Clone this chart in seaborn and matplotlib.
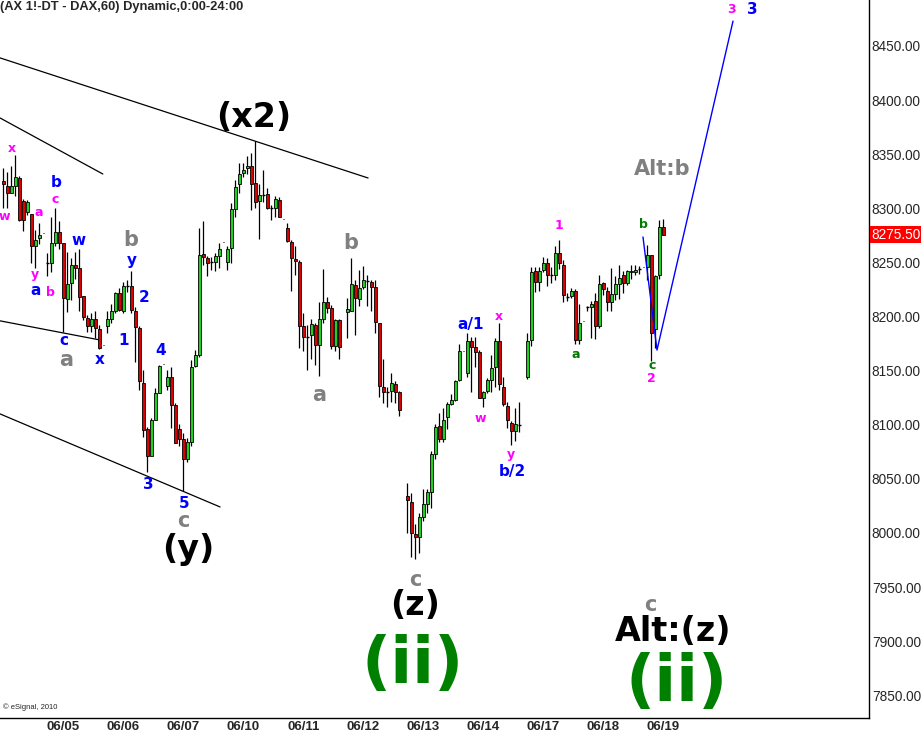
import numpy as np
import pandas as pd
import matplotlib
matplotlib.use("Agg")
import matplotlib.pyplot as plt
import matplotlib.transforms as mtransforms
import seaborn as sns

# -----------------------------
# DATA (hourly DAX candles)
# -----------------------------

opens = [8325, 8321, 8314, 8321, 8328, 8307, 8297, 8295, 8265, 8273, 8277,
         # 06/05
         8249, 8249, 8268, 8278, 8268, 8216, 8231, 8248, 8245, 8219, 8199, 8191, 8198, 8188, 8174,
         # 06/06
         8191, 8198, 8205, 8222, 8205, 8228, 8228, 8205, 8189, 8139, 8096, 8071, 8104, 8129, 8156,
         # 06/07
         8136, 8144, 8118, 8096, 8087, 8068, 8084, 8154, 8164, 8258, 8254, 8250, 8250, 8256, 8269,
         # 06/10
         8250, 8263, 8299, 8322, 8333, 8337, 8339, 8323, 8307, 8312, 8313, 8300, 8300, 8308, 8290,
         # 06/11
         8282, 8269, 8253, 8250, 8191, 8181, 8183, 8192, 8174, 8198, 8213, 8208, 8173, 8197, 8175,
         # 06/12
         8204, 8205, 8229, 8216, 8227, 8233, 8232, 8227, 8194, 8135, 8130, 8131, 8138, 8130, 8104,
         # 06/13
         8034, 8029, 7999, 7996, 8015, 8027, 8038, 8073, 8099, 8087, 8107, 8119, 8123, 8141, 8168,
         # 06/14
         8148, 8177, 8172, 8167, 8125, 8131, 8141, 8153, 8177, 8135, 8117, 8102, 8094, 8100, 8090,
         # 06/17
         8144, 8178, 8242, 8232, 8243, 8249, 8238, 8238, 8259, 8248, 8218, 8219, 8224, 8178, 8196,
         # 06/18
         8209, 8209, 8214, 8191, 8231, 8224, 8213, 8221, 8230, 8238, 8231, 8241, 8241, 8244, 8246,
         # 06/19
         8246, 8257, 8188, 8238, 8283]

highs = [8337, 8334, 8339, 8349, 8330, 8309, 8308, 8295, 8280, 8286, 8277,
         8259, 8292, 8300, 8288, 8268, 8260, 8254, 8260, 8262, 8219, 8201, 8203, 8205, 8192, 8174,
         8205, 8212, 8223, 8226, 8232, 8234, 8242, 8209, 8191, 8151, 8098, 8106, 8134, 8155, 8156,
         8151, 8153, 8120, 8101, 8092, 8088, 8160, 8169, 8282, 8288, 8256, 8255, 8259, 8268, 8269,
         8265, 8305, 8326, 8342, 8342, 8348, 8351, 8362, 8322, 8335, 8319, 8303, 8311, 8310, 8290,
         8286, 8271, 8265, 8252, 8203, 8192, 8198, 8194, 8213, 8244, 8218, 8211, 8198, 8198, 8175,
         8217, 8254, 8234, 8243, 8247, 8238, 8234, 8234, 8194, 8161, 8135, 8148, 8140, 8131, 8104,
         8046, 8037, 8008, 8018, 8041, 8041, 8076, 8101, 8111, 8115, 8121, 8128, 8141, 8175, 8168,
         8185, 8181, 8181, 8169, 8131, 8143, 8164, 8180, 8194, 8144, 8121, 8103, 8115, 8121, 8090,
         8185, 8246, 8246, 8246, 8255, 8254, 8246, 8265, 8271, 8252, 8222, 8226, 8225, 8212, 8196,
         8210, 8214, 8222, 8238, 8232, 8227, 8245, 8237, 8248, 8242, 8243, 8248, 8248, 8247, 8246,
         8266, 8257, 8238, 8289, 8290]

lows = [8300, 8300, 8314, 8311, 8288, 8279, 8294, 8249, 8245, 8267, 8277,
        8237, 8241, 8265, 8262, 8186, 8204, 8215, 8235, 8205, 8197, 8186, 8186, 8180, 8170, 8174,
        8185, 8194, 8203, 8205, 8203, 8223, 8203, 8158, 8132, 8089, 8056, 8071, 8104, 8129, 8156,
        8132, 8097, 8083, 8080, 8039, 8066, 8080, 8153, 8163, 8248, 8237, 8243, 8242, 8245, 8269,
        8243, 8249, 8292, 8314, 8329, 8332, 8298, 8300, 8272, 8306, 8299, 8289, 8292, 8292, 8290,
        8269, 8224, 8238, 8171, 8168, 8151, 8161, 8155, 8145, 8194, 8203, 8170, 8168, 8161, 8175,
        8180, 8205, 8183, 8210, 8225, 8210, 8205, 8185, 8126, 8120, 8116, 8121, 8120, 8108, 8104,
        8000, 7978, 7976, 7981, 8011, 8018, 8023, 8068, 8084, 8084, 8096, 8118, 8122, 8140, 8168,
        8144, 8130, 8153, 8125, 8116, 8129, 8130, 8135, 8132, 8117, 8097, 8081, 8085, 8093, 8090,
        8142, 8173, 8223, 8224, 8241, 8228, 8231, 8234, 8244, 8213, 8214, 8217, 8175, 8175, 8196,
        8205, 8180, 8179, 8189, 8220, 8205, 8205, 8215, 8216, 8222, 8229, 8235, 8238, 8239, 8246,
        8234, 8159, 8171, 8235, 8275.5]

closes = [8322, 8314, 8321, 8329, 8289, 8289, 8306, 8265, 8271, 8275, 8277,
          8249, 8268, 8278, 8268, 8217, 8230, 8248, 8245, 8218, 8200, 8191, 8198, 8189, 8171, 8174,
          8198, 8205, 8222, 8206, 8228, 8228, 8206, 8190, 8140, 8095, 8071, 8104, 8129, 8154, 8156,
          8144, 8118, 8083, 8087, 8068, 8084, 8153, 8164, 8257, 8255, 8249, 8250, 8256, 8262, 8269,
          8262, 8299, 8320, 8332, 8335, 8339, 8322, 8306, 8312, 8312, 8300, 8300, 8309, 8292, 8290,
          8270, 8254, 8251, 8191, 8181, 8181, 8193, 8174, 8198, 8213, 8208, 8173, 8197, 8172, 8175,
          8207, 8230, 8217, 8226, 8234, 8233, 8227, 8195, 8136, 8130, 8130, 8139, 8130, 8114, 8104,
          8030, 8000, 7996, 8015, 8027, 8038, 8073, 8098, 8087, 8104, 8119, 8123, 8140, 8168, 8168,
          8177, 8172, 8167, 8125, 8130, 8141, 8152, 8177, 8138, 8119, 8104, 8094, 8101, 8100, 8090,
          8177, 8241, 8232, 8242, 8249, 8238, 8238, 8259, 8249, 8220, 8218, 8224, 8178, 8194, 8196,
          8209, 8212, 8191, 8230, 8225, 8213, 8221, 8230, 8236, 8231, 8242, 8242, 8243, 8244, 8246,
          8257, 8185, 8237, 8283, 8275.5]

last_price = 8275.50

day_labels = ['06/05', '06/06', '06/07', '06/10', '06/11', '06/12',
              '06/13', '06/14', '06/17', '06/18', '06/19']

price_ticks = [7850, 7900, 7950, 8000, 8050, 8100, 8150, 8200, 8250, 8300, 8350, 8400, 8450]

# trendlines (bar index, price)
trend_x = [[-11.8, 80.2], [-11.8, 13.9], [-11.8, 13.2], [-11.8, 43.2]]
trend_y = [[8439, 8328], [8383.5, 8331.7], [8196, 8178.3], [8110, 8024]]

# projected path
proj_x = [148.9, 152.4, 171.4]
proj_y = [8273.5, 8169, 8473]

# wave labels: text, bar index, price, style
wave_text = ['x', 'w', 'b', 'c', 'a', 'w', 'b', 'y', 'y', 'a', 'b', '2', 'c', '1',
             'a', 'x', '4', '3', '5', 'c', '(y)', '(x2)', 'b', 'a', 'c', '(z)', '(ii)',
             'a/1', 'x', 'w', 'y', 'b/2', '1', 'a', 'b', 'c', '2', 'Alt:b', '3', '3',
             'c', 'Alt:(z)', '(ii)']
wave_x = [-8.9, -10.6, 2.2, 1.9, -2.0, 7.75, 20.9, 21.25, -3.1, -2.8, 0.9, 24.25, 4.25, 19.2,
          4.85, 13.2, 28.35, 25.25, 34.25, 33.9, 35.2, 51.7, 75.85, 67.9, 91.9, 91.9, 91.4,
          105.85, 112.9, 108.35, 115.85, 116.25, 127.9, 132.1, 149.0, 151.1, 151.1, 153.7, 171.1, 176.25,
          150.7, 156.4, 157.4]
wave_y = [8355.5, 8292, 8323.7, 8308.3, 8296, 8270.7, 8270.7, 8251.6, 8238.4, 8223.9, 8222, 8217.8, 8177.7, 8177.7,
          8159.9, 8159.9, 8168.2, 8044.4, 8027.4, 8011.1, 7984.3, 8383.5, 8268.2, 8127.5, 7956.6, 7932.6, 7878,
          8192.2, 8199.9, 8105.3, 8072.7, 8056.6, 8283.7, 8164.5, 8285.2, 8154.6, 8143, 8336.3, 8483.3, 8483.3,
          7933.5, 7908.5, 7861]
wave_style = ['mag', 'mag', 'blue', 'mag', 'mag', 'blue', 'gray', 'blue', 'mag', 'blue', 'mag', 'blue', 'blue', 'blue',
              'gray', 'blue', 'blue', 'blue', 'blue', 'gray', 'big', 'big', 'gray', 'gray', 'gray', 'big', 'ii',
              'blue', 'mag', 'mag', 'mag', 'blue', 'mag', 'grn', 'grn', 'grn', 'mag', 'gray', 'mag', 'blue',
              'gray', 'big', 'ii']

styles = {
    'big': dict(color='black', fontsize=24),
    'ii': dict(color='#008000', fontsize=46),
    'gray': dict(color='#808080', fontsize=15),
    'blue': dict(color='#0000ff', fontsize=11),
    'mag': dict(color='#ff00ff', fontsize=9),
    'grn': dict(color='#007a00', fontsize=9),
}

# -----------------------------
# BUILD TABLE
# -----------------------------

df = pd.DataFrame({'open': opens, 'high': highs, 'low': lows, 'close': closes})
df['bar'] = np.arange(len(df)) - 11

# -----------------------------
# PLOT
# -----------------------------

sns.set_style("white")
plt.rcParams['font.family'] = ['DejaVu Sans']

fig = plt.figure(figsize=(9.21, 7.36), dpi=100)
ax = fig.add_axes([0.0, 0.0245, 0.9436, 0.9755])

for _, r in df.iterrows():
    x = r['bar']
    if r['high'] == r['low']:
        # session-end marker
        ax.bar(x, 1.6, bottom=r['close'] - 0.8, width=0.75, color='black', zorder=3)
        continue
    ax.vlines(x, r['low'], r['high'], color='black', lw=0.9, zorder=2)
    if r['open'] == r['close']:
        ax.hlines(r['close'], x - 0.4, x + 0.4, color='black', lw=1.0, zorder=3)
    else:
        col = '#1fd11f' if r['close'] > r['open'] else '#dd0000'
        ax.bar(x, abs(r['close'] - r['open']), bottom=min(r['open'], r['close']),
               width=0.8, color=col, edgecolor='black', linewidth=0.6, zorder=3)

for tx, ty in zip(trend_x, trend_y):
    sns.lineplot(x=tx, y=ty, ax=ax, color='black', lw=0.9, sort=False, estimator=None, zorder=1)

sns.lineplot(x=proj_x, y=proj_y, ax=ax, color='#0000ff', lw=1.0, sort=False, estimator=None, zorder=4)

for t, x, y, s in zip(wave_text, wave_x, wave_y, wave_style):
    ax.text(x, y, t, ha='center', va='center', fontweight='bold', zorder=5, **styles[s])

# axes
axis_font = ['Liberation Sans', 'DejaVu Sans']
ax.set_xlim(-11.8, 205.4)
ax.set_ylim(7829, 8492.5)
ax.yaxis.tick_right()
ax.set_yticks(price_ticks)
ax.set_yticklabels(['%.2f' % p for p in price_ticks], family=axis_font, fontsize=9.8)
ax.set_xticks([15 * i + 4 for i in range(len(day_labels))])
ax.set_xticklabels(day_labels, family=axis_font, fontsize=9.5, fontweight='bold')
ax.tick_params(axis='y', length=0, pad=2)
ax.tick_params(axis='x', length=0, pad=2)
for side in ['left', 'top']:
    ax.spines[side].set_visible(False)
for side in ['right', 'bottom']:
    ax.spines[side].set_color('black')
    ax.spines[side].set_linewidth(1.0)
ax.set_xlabel('')
ax.set_ylabel('')

# last price box
trans = mtransforms.blended_transform_factory(ax.transAxes, ax.transData)
ax.text(1.003, last_price, '%.2f' % last_price, transform=trans, ha='left', va='center',
        color='white', fontsize=9.8, family=axis_font,
        bbox=dict(facecolor='red', edgecolor='none', pad=1.0), clip_on=False)

fig.text(0.0, 0.998, '(AX 1!-DT - DAX,60) Dynamic,0:00-24:00', ha='left', va='top',
         fontsize=9.3, fontweight='bold', family=axis_font)
ax.text(0.003, 0.012, '\u00a9 eSignal, 2010', transform=ax.transAxes, fontsize=5.5,
        family=axis_font)

fig.savefig('out.png', dpi=100)
